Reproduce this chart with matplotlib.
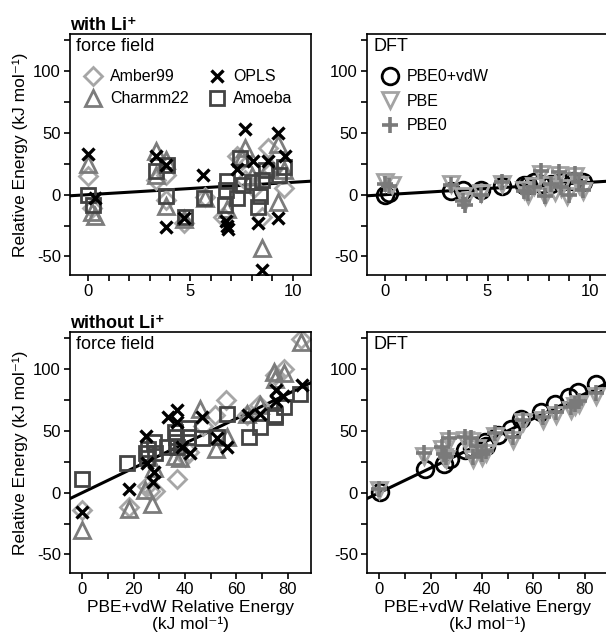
import matplotlib
matplotlib.use('Agg')
import matplotlib.pyplot as plt
from matplotlib.ticker import MultipleLocator

plt.rcParams['font.family'] = ['Liberation Sans', 'DejaVu Sans']
plt.rcParams['axes.unicode_minus'] = False

# ---- with Li+ : force field (x = PBE+vdW, y = method) ----
amber_li_x = [0, 0.2, 3.3, 3.8, 3.8, 4.7, 5.7, 6.6, 7.3, 7.5, 7.65, 8.1, 8.5, 8.8, 9.0, 9.6]
amber_li_y = [15, -11, 12, 16, -4, -23, -2, -18, 31, 28, 12, 5, -18, 38, 20, 5]
charmm_li_x = [0, 0.2, 0.3, 3.3, 3.3, 3.8, 3.8, 4.7, 5.7, 6.8, 7.5, 7.65, 8.0, 8.5, 8.8, 9.3, 9.3, 9.6]
charmm_li_y = [25, -14, -17, 35, 16, 28, -9, -20, -3, -12, 30, 38, 15, -43, 22, 41, -6, 20]
opls_li_x = [0, 0.3, 3.3, 3.8, 3.8, 4.7, 5.6, 6.75, 6.8, 6.85, 7.3, 7.65, 8.05, 8.3, 8.5, 8.8, 9.3, 9.3, 9.65]
opls_li_y = [33, -3, 31, 24, -26, -19, 16, -21, -25, -28, 21, 53, 27, -23, -61, 27, 50, -19, 31]
amoeba_li_x = [0, 0.25, 3.3, 3.85, 3.8, 4.75, 5.65, 6.7, 6.75, 6.8, 7.3, 7.4, 7.55, 8.0, 8.3, 8.4, 8.5, 8.7, 9.35, 9.6]
amoeba_li_y = [0, -8, 19, 24, -1, -18, -3, -8, 4, 11, -3, 30, 8, 10, -10, -1, 12, 20, 16, 22]

# ---- with Li+ : DFT ----
pbe0vdw_li_x = [0.0, 0.2, 3.2, 3.8, 4.7, 5.7, 6.8, 7.0, 7.3, 7.6, 8.1, 8.6, 9.2, 9.7]
pbe0vdw_li_y = [0, 1, 3, 4, 4, 7, 8, 8, 10, 9, 9, 10, 11, 10]
pbe_li_x = [0, 0.3, 3.2, 3.8, 3.9, 4.7, 5.7, 6.8, 7.0, 7.3, 7.6, 7.8, 8.0, 8.3, 8.5, 8.6, 8.9, 9.3, 9.5, 9.7]
pbe_li_y = [10, 8, 9, -1, -5, 1, 9, 4, 0, 7, 17, -1, 8, 2, 16, 5, -1, 15, 8, 3]
pbe0_li_x = [0, 0.2, 3.2, 3.8, 3.9, 4.7, 5.7, 6.8, 7.0, 7.3, 7.6, 7.8, 8.1, 8.5, 8.6, 9.0, 9.3, 9.5, 9.7]
pbe0_li_y = [9, 7, 8, -5, -8, 0, 10, 3, 1, 6, 19, -1, 9, 18, 6, 0, 17, 10, 4]

# ---- without Li+ : force field ----
amber_x = [0, 18, 25, 26.5, 28.3, 36.8, 40, 41.5, 47, 51.7, 56, 64, 68.6, 75, 78.3, 85]
amber_y = [-14, -12, 5, 1, 1, 11, 29, 33, 54, 63, 75, 63, 71, 95, 100, 124]
charmm_x = [0, 18, 24.4, 27, 28, 36, 38, 45.9, 52, 56.3, 64, 69.2, 74.5, 75, 78.3, 85]
charmm_y = [-30, -13, 2, -9, 20, 30, 28, 68, 35, 45, 64, 71, 98, 92, 97, 122]
opls_x = [0, 18, 24.8, 25, 27.4, 27.7, 33.5, 36.8, 36.8, 38.7, 42, 46.5, 52.4, 56.3, 64.3, 69, 75.3, 75.3, 78, 85.5]
opls_y = [-16, 3, 46, 24, 9, 17, 61, 67, 57, 37, 32, 61, 44, 37, 63, 64, 83, 74, 78, 87]
amoeba_x = [0, 17.5, 24.8, 25, 25.5, 27.7, 28.3, 32.9, 36, 36.3, 36.5, 36.8, 41.3, 41.3, 46.5, 52.4, 56.3, 64.7, 69, 75, 75, 78.3, 84.8]
amoeba_y = [11, 24, 32, 28, 35, 41, 32, 37, 49, 45, 41, 37, 52, 45, 44, 45, 64, 45, 53, 63, 61, 69, 80]

# ---- without Li+ : DFT ----
pbe0vdw_x = [0.1, 17.8, 25, 27.5, 33.3, 36, 41, 41.7, 46.3, 51.4, 55.3, 63, 68.2, 74, 77.3, 84.4]
pbe0vdw_y = [0.5, 19.4, 23.5, 27.5, 34.3, 36, 41, 38, 46.4, 51.9, 60, 65.3, 72, 77.5, 81.5, 88.3]
pbe_x = [0, 17.4, 24.3, 25, 26, 27.3, 33.3, 35.8, 36.6, 38, 39.8, 41.7, 45, 52, 56, 63.7, 68.9, 74.7, 76, 77.9, 84.4]
pbe_y = [2, 30, 35, 29, 27, 42, 43, 42, 27, 36, 29, 32, 46, 43, 57, 59, 63, 67, 70, 72, 78]
pbe0_x = [0, 17.4, 24.3, 25, 26, 27.3, 33.3, 35.8, 36.6, 38, 39.8, 41.7, 45, 52, 56, 63.7, 68.9, 74.7, 76, 77.9, 84.4]
pbe0_y = [3, 32, 37, 31, 29, 44, 45, 44, 29, 38, 31, 34, 48, 45, 59, 61, 65, 69, 72, 74, 81]

ylabel = 'Relative Energy (kJ mol\u207b\u00b9)'
xlabel = 'PBE+vdW Relative Energy\n(kJ mol\u207b\u00b9)'

W, H = 606, 635
fig = plt.figure(figsize=(W / 100, H / 100), dpi=100)

def box(x0, y0):
    return [x0 / W, 1 - (y0 + 241) / H, 241 / W, 241 / H]

ax_tl = fig.add_axes(box(70, 34))
ax_tr = fig.add_axes(box(367, 34))
ax_bl = fig.add_axes(box(70, 332))
ax_br = fig.add_axes(box(367, 332))

ms_style = dict(linestyle='none', markerfacecolor='none', markeredgewidth=2.0)

def style(ax, top):
    ax.set_ylim(-65, 130)
    ax.yaxis.set_major_locator(MultipleLocator(50))
    ax.yaxis.set_minor_locator(MultipleLocator(25))
    if top:
        ax.set_xlim(-0.9, 10.9)
        ax.xaxis.set_major_locator(MultipleLocator(5))
        ax.xaxis.set_minor_locator(MultipleLocator(1))
    else:
        ax.set_xlim(-4.8, 89)
        ax.xaxis.set_major_locator(MultipleLocator(20))
        ax.xaxis.set_minor_locator(MultipleLocator(10))
    ax.tick_params(which='both', direction='out', length=4.5, width=1.2, labelsize=12, pad=2)
    for s in ax.spines.values():
        s.set_linewidth(1.2)
    ax.axline((0, 0), slope=1, color='black', lw=2.2, zorder=1)

def ff_panel(ax, data, top):
    style(ax, top)
    (ax_x, ax_y), (ch_x, ch_y), (op_x, op_y), (am_x, am_y) = data
    ax.plot(ax_x, ax_y, marker='D', ms=9.5, color='#a6a6a6', label='Amber99', **ms_style)
    ax.plot(ch_x, ch_y, marker='^', ms=12, color='#7c7c7c', label='Charmm22', **ms_style)
    ax.plot(am_x, am_y, marker='s', ms=10.5, color='#444444', label='Amoeba', **ms_style)
    ax.plot(op_x, op_y, marker='x', ms=9, color='black', label='OPLS', linestyle='none', markeredgewidth=2.4)
    ax.text(0.025, 0.985, 'force field', transform=ax.transAxes, ha='left', va='top', fontsize=13)
    ax.set_ylabel(ylabel, fontsize=12.5, labelpad=4)

def dft_panel(ax, data, top):
    style(ax, top)
    (c_x, c_y), (p_x, p_y), (p0_x, p0_y) = data
    ax.plot(c_x, c_y, marker='o', ms=12, color='black', label='PBE0+vdW', **ms_style)
    ax.plot(p_x, p_y, marker='v', ms=12, color='#a3a3a3', label='PBE', **ms_style)
    ax.plot(p0_x, p0_y, marker='+', ms=12, color='#7a7a7a', label='PBE0', linestyle='none', markeredgewidth=2.6)
    ax.text(0.025, 0.985, 'DFT', transform=ax.transAxes, ha='left', va='top', fontsize=13)

ff_panel(ax_tl, [(amber_li_x, amber_li_y), (charmm_li_x, charmm_li_y),
                 (opls_li_x, opls_li_y), (amoeba_li_x, amoeba_li_y)], True)
dft_panel(ax_tr, [(pbe0vdw_li_x, pbe0vdw_li_y), (pbe_li_x, pbe_li_y), (pbe0_li_x, pbe0_li_y)], True)
ff_panel(ax_bl, [(amber_x, amber_y), (charmm_x, charmm_y),
                 (opls_x, opls_y), (amoeba_x, amoeba_y)], False)
dft_panel(ax_br, [(pbe0vdw_x, pbe0vdw_y), (pbe_x, pbe_y), (pbe0_x, pbe0_y)], False)

# legends (top row only)
h, l = ax_tl.get_legend_handles_labels()
order = [0, 1, 3, 2]
ax_tl.legend([h[i] for i in order], [l[i] for i in order], ncol=2, loc='upper left',
             bbox_to_anchor=(0.0, 0.9), frameon=False, fontsize=11.5, handletextpad=0.3,
             columnspacing=1.0, labelspacing=0.45, borderaxespad=0.3, handlelength=1.5)
ax_tr.legend(loc='upper left', bbox_to_anchor=(0.0, 0.9), frameon=False, fontsize=11.5,
             handletextpad=0.3, labelspacing=0.6, borderaxespad=0.3, handlelength=1.5)

ax_tl.set_title('with Li\u207a', loc='left', fontweight='bold', fontsize=13, pad=3)
ax_bl.set_title('without Li\u207a', loc='left', fontweight='bold', fontsize=13, pad=3)

for ax in (ax_bl, ax_br):
    ax.set_xlabel(xlabel, fontsize=12.5, labelpad=2, linespacing=1.1)

fig.savefig('out.png', dpi=100)
